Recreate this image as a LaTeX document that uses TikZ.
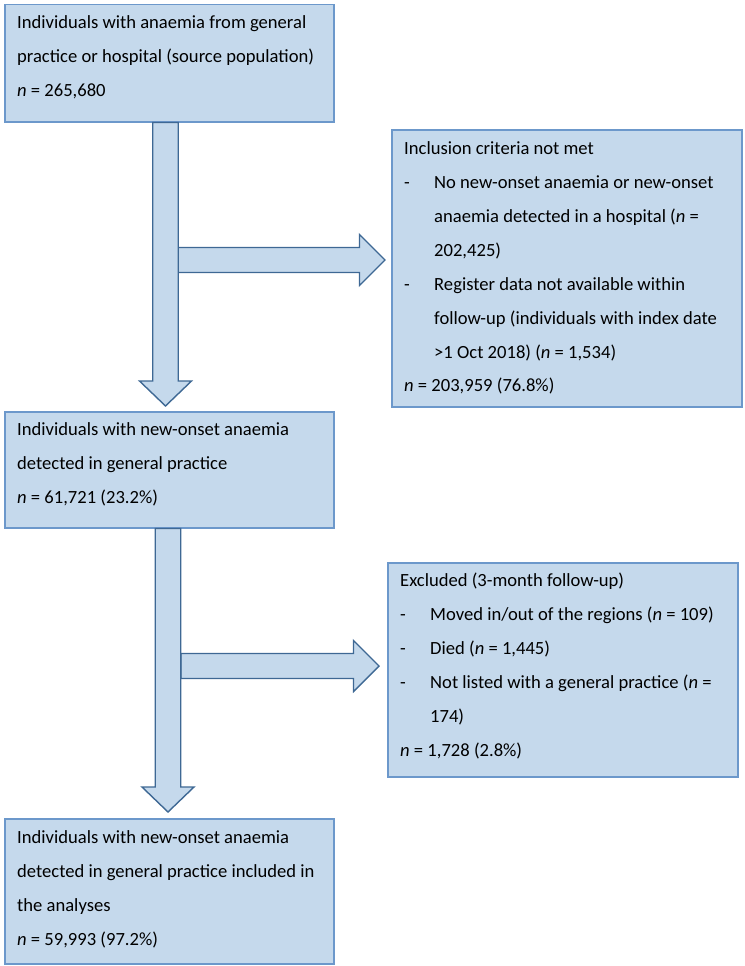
\documentclass[tikz,border=0pt]{standalone}
\usepackage{fontspec}
\setmainfont{Carlito}
\usetikzlibrary{calc}
\definecolor{boxfill}{RGB}{197,217,236}
\definecolor{boxline}{RGB}{108,152,203}
\definecolor{arrowline}{RGB}{62,104,148}
% down block arrow: #1 = top centre of shaft, #2 = tip
\newcommand\downblock[2]{%
  \draw[blockarrow] let \p1=(#1), \p2=(#2) in
    (\x1-12.75pt,\y1) -- (\x1-12.75pt,\y2+25pt) -- (\x1-26pt,\y2+25pt) -- (\x2,\y2)
    -- (\x1+26pt,\y2+25pt) -- (\x1+12.75pt,\y2+25pt) -- (\x1+12.75pt,\y1) -- cycle;}
% right block arrow: #1 = left centre of shaft, #2 = tip
\newcommand\rightblock[2]{%
  \draw[blockarrow] let \p1=(#1), \p2=(#2) in
    (\x1,\y1+12.5pt) -- (\x2-25.5pt,\y1+12.5pt) -- (\x2-25.5pt,\y1+25.5pt) -- (\x2,\y1)
    -- (\x2-25.5pt,\y1-25.5pt) -- (\x2-25.5pt,\y1-12.5pt) -- (\x1,\y1-12.5pt) -- cycle;}
\newcommand\dashitem{\makebox[30pt][l]{-}}
\newcommand\indentline{\hspace*{30pt}}
\begin{document}
\begin{tikzpicture}[x=1pt,y=-1pt,
  box/.style={draw=boxline, fill=boxfill, line width=1.5pt, inner sep=0pt, anchor=north west, rectangle},
  blockarrow/.style={draw=arrowline, fill=boxfill, line width=1.4pt, line join=miter},
  txt/.style={inner sep=0pt, anchor=base west, font=\fontsize{18.6}{34}\selectfont, text=black}]
\useasboundingbox (0,0) rectangle (744,966);

% boxes
\node[box, minimum width=329pt, minimum height=117pt] (b1) at (4,4) {};
\node[box, minimum width=350pt, minimum height=277pt] (b2) at (391,129) {};
\node[box, minimum width=329pt, minimum height=116pt] (b3) at (4,411) {};
\node[box, minimum width=350pt, minimum height=214pt] (b4) at (387,562) {};
\node[box, minimum width=329pt, minimum height=145pt] (b5) at (4,818) {};

% arrow anchor points
\coordinate (a1top) at ($(b1.south west)+(161.5,0)$);
\coordinate (a1tip) at ($(b3.north west)+(161.5,-5)$);
\coordinate (h1start) at ($(a1top)+(12.5,137.5)$);
\coordinate (h1tip) at ($(b2.north west)+(-6,129.5)$);
\coordinate (a2top) at ($(b3.south west)+(164,0)$);
\coordinate (a2tip) at ($(b5.north west)+(164,-6)$);
\coordinate (h2start) at ($(a2top)+(13,137.5)$);
\coordinate (h2tip) at ($(b4.north west)+(-8,102.5)$);

% block arrows
\rightblock{h1start}{h1tip}
\downblock{a1top}{a1tip}
\rightblock{h2start}{h2tip}
\downblock{a2top}{a2tip}

% texts
\node[txt] (t1) at ($(b1.north west)+(13,25)$) {\parbox[t]{320pt}{%
Individuals with anaemia from general\\
practice or hospital (source population)\\
\textit{n} = 265,680}};

\node[txt] (t2) at ($(b2.north west)+(13,25)$) {\parbox[t]{340pt}{%
Inclusion criteria not met\\
\dashitem No new-onset anaemia or new-onset\\
\indentline anaemia detected in a hospital (\textit{n} =\\
\indentline 202,425)\\
\dashitem Register data not available within\\
\indentline follow-up (individuals with index date\\
\indentline >1 Oct 2018) (\textit{n} = 1,534)\\[-1pt]
\textit{n} = 203,959 (76.8\%)}};

\node[txt] (t3) at ($(b3.north west)+(13,24)$) {\parbox[t]{320pt}{%
Individuals with new-onset anaemia\\
detected in general practice\\
\textit{n} = 61,721 (23.2\%)}};

\node[txt] (t4) at ($(b4.north west)+(13,24)$) {\parbox[t]{340pt}{%
Excluded (3-month follow-up)\\
\dashitem Moved in/out of the regions (\textit{n} = 109)\\
\dashitem Died (\textit{n} = 1,445)\\
\dashitem Not listed with a general practice (\textit{n} =\\
\indentline 174)\\
\textit{n} = 1,728 (2.8\%)}};

\node[txt] (t5) at ($(b5.north west)+(13,25)$) {\parbox[t]{320pt}{%
Individuals with new-onset anaemia\\
detected in general practice included in\\
the analyses\\
\textit{n} = 59,993 (97.2\%)}};
\end{tikzpicture}
\end{document}
